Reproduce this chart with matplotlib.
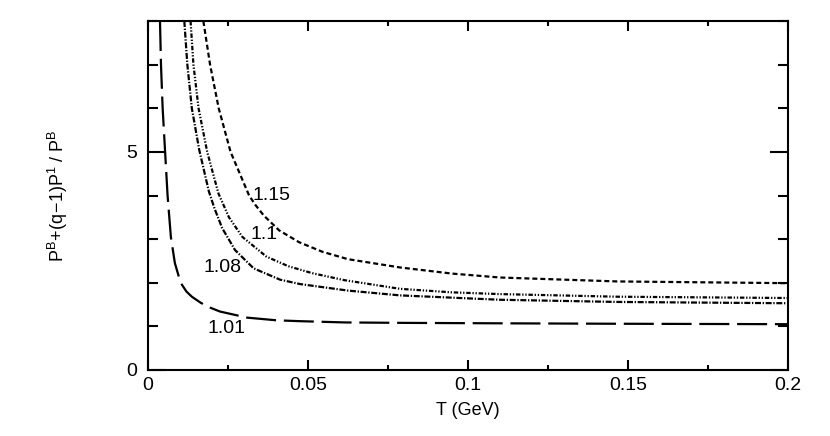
import numpy as np
import matplotlib
matplotlib.use('Agg')
import matplotlib.pyplot as plt
from matplotlib.ticker import MultipleLocator, FixedLocator

plt.rcParams['font.family'] = ['Liberation Sans', 'DejaVu Sans']
plt.rcParams['mathtext.fontset'] = 'custom'
plt.rcParams['mathtext.rm'] = 'Liberation Sans'
plt.rcParams['mathtext.it'] = 'Liberation Sans'

# curves: T (GeV) vs ratio, one pair of lists per q value
T_101 = [0.00375, 0.00406, 0.00458, 0.00535, 0.00612, 0.00715, 0.0084, 0.0102, 0.0120,
         0.0137, 0.0165, 0.0194, 0.0225, 0.031, 0.040, 0.047, 0.0616, 0.08, 0.11, 0.1466, 0.2]
v_101 = [8.0, 7.0, 6.0, 5.0, 4.0, 3.05, 2.45, 2.0, 1.80,
         1.68, 1.54, 1.43, 1.34, 1.20, 1.14, 1.12, 1.09, 1.08, 1.07, 1.06, 1.05]

T_108 = [0.01135, 0.0123, 0.0137, 0.016, 0.019, 0.0208, 0.0232, 0.0272, 0.033, 0.0413,
         0.0475, 0.0625, 0.0788, 0.11, 0.1466, 0.2]
v_108 = [8.0, 7.0, 6.0, 5.05, 4.1, 3.7, 3.25, 2.75, 2.33, 2.07,
         1.97, 1.82, 1.71, 1.61, 1.56, 1.53]

T_110 = [0.0133, 0.0142, 0.0158, 0.0185, 0.022, 0.0253, 0.0295, 0.037, 0.0438, 0.0513,
         0.0613, 0.0788, 0.095, 0.11, 0.1466, 0.2]
v_110 = [8.0, 7.0, 6.0, 5.0, 4.05, 3.5, 3.05, 2.6, 2.38, 2.22,
         2.06, 1.86, 1.78, 1.74, 1.68, 1.65]

T_115 = [0.0173, 0.0194, 0.0221, 0.0258, 0.0316, 0.0336, 0.0362, 0.041, 0.0472, 0.0545,
         0.0625, 0.0788, 0.095, 0.11, 0.1466, 0.2]
v_115 = [8.0, 7.0, 6.0, 5.0, 4.0, 3.78, 3.54, 3.2, 2.93, 2.71,
         2.54, 2.35, 2.21, 2.12, 2.03, 1.99]

labels = ['1.01', '1.08', '1.1', '1.15']
label_pos = [(0.0185, 0.94), (0.0172, 2.34), (0.0319, 3.10), (0.0328, 3.99)]

fig = plt.figure(figsize=(8.3, 4.36), dpi=100)
ax = fig.add_axes([0.1783, 0.1514, 0.7711, 0.8004])

lw = 1.6
ax.plot(T_101, v_101, color='k', lw=lw, linestyle=(0, (13.5, 3.5)))
ax.plot(T_108, v_108, color='k', lw=lw, linestyle=(0, (2.7, 0.75, 0.6, 0.75)))
ax.plot(T_110, v_110, color='k', lw=lw, linestyle=(0, (2.0, 0.8, 0.6, 0.8, 0.6, 0.8)))
ax.plot(T_115, v_115, color='k', lw=lw, linestyle=(0, (2.25, 1.35)))

for lab, (x0, y0) in zip(labels, label_pos):
    ax.text(x0, y0, lab, fontsize=14, ha='left', va='center')

ax.set_xlim(0, 0.2)
ax.set_ylim(0, 8)
ax.xaxis.set_major_locator(FixedLocator([0, 0.05, 0.1, 0.15, 0.2]))
ax.set_xticklabels(['0', '0.05', '0.1', '0.15', '0.2'])
ax.xaxis.set_minor_locator(MultipleLocator(0.025))
ax.yaxis.set_major_locator(FixedLocator([0, 5]))
ax.yaxis.set_minor_locator(MultipleLocator(1))

ax.tick_params(which='both', direction='in', top=True, right=True, width=1.5, labelsize=14)
ax.tick_params(axis='x', which='major', length=7, pad=5)
ax.tick_params(axis='x', which='minor', length=3.5)
ax.tick_params(axis='y', which='major', length=13, pad=8)
ax.tick_params(axis='y', which='minor', length=7)
for s in ax.spines.values():
    s.set_linewidth(1.5)

ax.set_xlabel('T (GeV)', fontsize=13, labelpad=6)
ax.set_ylabel(r'$\mathregular{P^B\!+\!(q\!-\!1)P^1\ /\ P^B}$', fontsize=13, labelpad=40)

fig.savefig('out.png', dpi=100)
